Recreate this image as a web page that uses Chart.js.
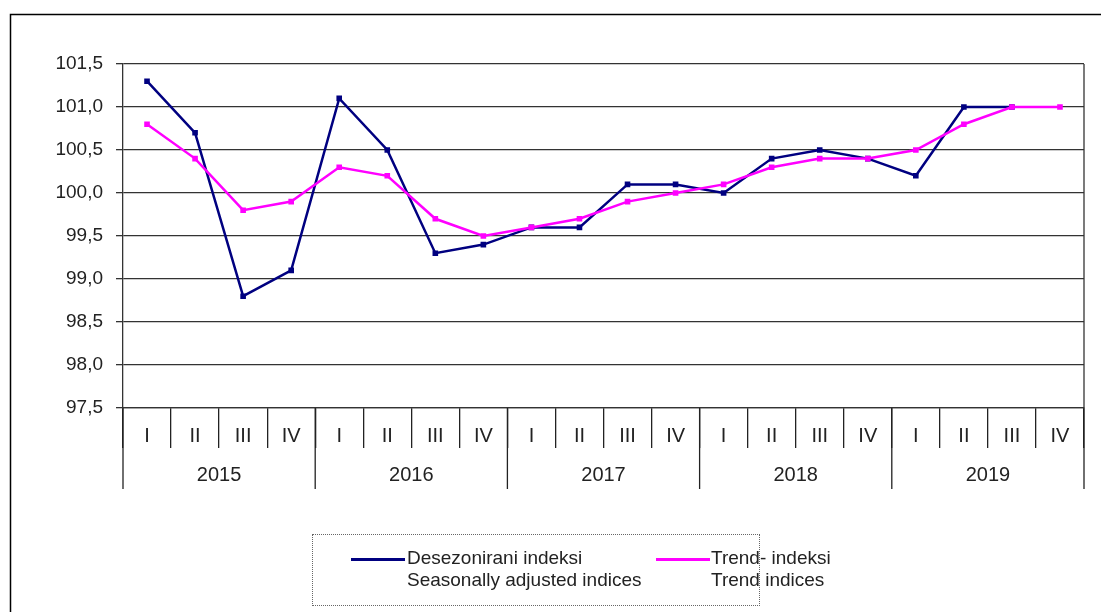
<!DOCTYPE html>
<html>
<head>
<meta charset="utf-8">
<script src="https://cdn.jsdelivr.net/npm/chart.js@4/dist/chart.umd.min.js"></script>
<style>
    html, body { margin: 0; padding: 0; background: #fff; }
    #wrap { position: relative; width: 1101px; height: 612px; overflow: hidden; }
    #legendBox {
        position: absolute; left: 312px; top: 534px; width: 446px; height: 70px;
        border: 1px dotted #666; font-family: "Liberation Sans", Arial, sans-serif;
        font-size: 19px; color: #222; line-height: 22px;
    }
    .lg-line { position: absolute; height: 3px; width: 54px; top: 23px; }
    .lg-text { position: absolute; top: 12px; white-space: nowrap; }
</style>
</head>
<body>
<div id="wrap">
    <canvas id="indexChart" width="1101" height="612"></canvas>
    <div id="legendBox">
        <div class="lg-line" style="left:38px;background:#000080"></div>
        <div class="lg-text" style="left:94px">Desezonirani indeksi<br>Seasonally adjusted indices</div>
        <div class="lg-line" style="left:343px;background:#ff00ff"></div>
        <div class="lg-text" style="left:398px">Trend- indeksi<br>Trend indices</div>
    </div>
</div>
<script>
    const quarters = ["I", "II", "III", "IV", "I", "II", "III", "IV", "I", "II", "III", "IV",
        "I", "II", "III", "IV", "I", "II", "III", "IV"];
    const years = ["2015", "2016", "2017", "2018", "2019"];
    const desezonirani = [101.3, 100.7, 98.8, 99.1, 101.1, 100.5, 99.3, 99.4, 99.6, 99.6, 100.1, 100.1,
        100.0, 100.4, 100.5, 100.4, 100.2, 101.0, 101.0, null];
    const trend = [100.8, 100.4, 99.8, 99.9, 100.3, 100.2, 99.7, 99.5, 99.6, 99.7, 99.9, 100.0,
        100.1, 100.3, 100.4, 100.4, 100.5, 100.8, 101.0, 101.0];
    const yTicks = [97.5, 98.0, 98.5, 99.0, 99.5, 100.0, 100.5, 101.0, 101.5];

    const FONT = "Liberation Sans, Arial, sans-serif";
    const TEXT = "#222";
    const GRID = "#333";

    // okvir slike, desni rub grafa, kvartali i godine ispod osi
    const framePlugin = {
        id: "frame",
        afterDraw(chart) {
            let ctx = chart.ctx;
            let area = chart.chartArea;
            let x = chart.scales.x;
            ctx.save();

            ctx.strokeStyle = "#000";
            ctx.lineWidth = 1.5;
            ctx.beginPath();
            ctx.moveTo(10.5, 612);
            ctx.lineTo(10.5, 14.5);
            ctx.lineTo(1101, 14.5);
            ctx.stroke();

            ctx.strokeStyle = GRID;
            ctx.lineWidth = 1.3;
            ctx.beginPath();
            ctx.moveTo(area.right, area.top);
            ctx.lineTo(area.right, area.bottom);
            ctx.stroke();

            let top = x.top;
            ctx.fillStyle = TEXT;
            ctx.textAlign = "center";
            ctx.textBaseline = "middle";
            ctx.font = "20px " + FONT;
            quarters.forEach((q, i) => {
                ctx.fillText(q, x.getPixelForValue(i), top + 28);
            });

            ctx.strokeStyle = "#222";
            ctx.lineWidth = 1.3;
            years.forEach((y, k) => {
                let a = x.getPixelForValue(k * 4);
                let b = x.getPixelForValue(k * 4 + 3);
                ctx.fillText(y, (a + b) / 2, top + 67);
                let left = k === 0 ? area.left : (x.getPixelForValue(k * 4 - 1) + a) / 2;
                ctx.beginPath();
                ctx.moveTo(left, top);
                ctx.lineTo(left, top + 81);
                ctx.stroke();
            });
            ctx.beginPath();
            ctx.moveTo(area.right, top);
            ctx.lineTo(area.right, top + 81);
            ctx.stroke();

            ctx.restore();
        }
    };

    new Chart(document.getElementById("indexChart").getContext("2d"), {
        type: "line",
        data: {
            labels: quarters,
            datasets: [{
                label: "Desezonirani indeksi",
                data: desezonirani,
                borderColor: "#000080",
                backgroundColor: "#000080",
                borderWidth: 2.5,
                pointStyle: "rect",
                pointRadius: 2.2,
                tension: 0,
                order: 2
            }, {
                label: "Trend- indeksi",
                data: trend,
                borderColor: "#ff00ff",
                backgroundColor: "#ff00ff",
                borderWidth: 2.5,
                pointStyle: "rect",
                pointRadius: 2.2,
                tension: 0,
                order: 1
            }]
        },
        options: {
            responsive: false,
            animation: false,
            layout: { padding: { left: 0, top: 64, right: 17, bottom: 122 } },
            plugins: {
                legend: { display: false },
                tooltip: { enabled: false }
            },
            scales: {
                x: {
                    offset: true,
                    grid: {
                        offset: true,
                        drawOnChartArea: false,
                        tickLength: 40,
                        color: "#222",
                        lineWidth: 1.3
                    },
                    border: { display: true, color: GRID, width: 1.3 },
                    ticks: { display: false },
                    afterFit: s => { s.height = 82; }
                },
                y: {
                    min: 97.5,
                    max: 101.5,
                    afterBuildTicks: s => { s.ticks = yTicks.map(v => ({ value: v })); },
                    grid: { color: GRID, lineWidth: 1.3, tickLength: 7 },
                    border: { display: true, color: GRID, width: 1.3 },
                    ticks: {
                        padding: 13,
                        color: TEXT,
                        font: { family: FONT, size: 19 },
                        callback: v => v.toFixed(1).replace(".", ",")
                    },
                    afterFit: s => { s.width = 123; }
                }
            }
        },
        plugins: [framePlugin]
    });
</script>
</body>
</html>
